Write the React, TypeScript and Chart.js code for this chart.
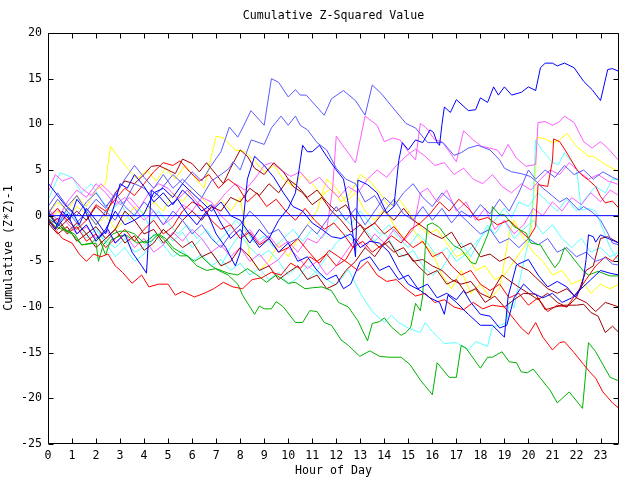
import React, { useEffect, useRef } from "react";
import { Chart, registerables } from "chart.js";

Chart.register(...registerables);

// ---------- axis / labels ----------
const TITLE = "Cumulative Z-Squared Value";
const X_TITLE = "Hour of Day";
const Y_TITLE = "Cumulative (Z*Z)-1";
const hourTicks = [0, 1, 2, 3, 4, 5, 6, 7, 8, 9, 10, 11, 12, 13, 14, 15, 16, 17, 18, 19, 20, 21, 22, 23];
const X_MIN = 0;
const X_MAX = 23.77;
const Y_MIN = -25;
const Y_MAX = 20;
const Y_STEP = 5;

// ---------- series: [hour, cumulative value] ----------
const zeroLine = [[0, 0], [23.77, 0]];

const blueTop = [[0,3.6],[0.4,2.2],[0.7,1.2],[1,0.5],[1.3,-1],[1.6,0.8],[2,-0.5],[2.4,-2],[2.8,1.5],[3,3.5],[3.3,3],[3.6,4.5],[4,3.2],[4.4,1.5],[4.8,2.5],[5.2,1.2],[5.6,2.8],[6,1.8],[6.4,0.5],[6.8,1.2],[7.2,-0.8],[7.6,-2.5],[8,-1.5],[8.4,-3],[8.8,-1.5],[9.2,-2.5],[9.6,-0.5],[10,0.8],[10.3,2.5],[10.45,5],[10.6,7.7],[10.8,7],[11,7],[11.3,7.7],[11.6,6.5],[12,5],[12.3,4],[12.6,0],[12.8,-4.5],[12.9,3.9],[13.3,3.4],[13.7,2.5],[14.1,0.3],[14.4,1],[14.6,6],[14.75,8],[15,7.2],[15.3,8.3],[15.6,8],[15.9,9.4],[16.05,9.1],[16.2,8],[16.3,7.7],[16.4,10],[16.5,11.9],[16.75,11.3],[17,12.7],[17.5,11.5],[17.8,11.6],[18,12.9],[18.3,12.4],[18.55,14.1],[18.75,13.2],[19,14.1],[19.3,13.2],[19.7,13.5],[20,14.1],[20.3,13.7],[20.5,16.2],[20.7,16.7],[21,16.7],[21.2,16.4],[21.5,16.7],[21.9,16.2],[22.3,14.7],[22.65,13.8],[23,12.6],[23.3,16],[23.5,16.1],[23.77,15.8]];

const blueDip = [[0,-0.5],[0.3,-1.5],[0.6,0.5],[0.9,-0.5],[1.2,1.8],[1.5,0.8],[1.8,-1],[2.1,-2.5],[2.5,-1.5],[2.8,-3],[3.2,-2],[3.5,-4],[3.9,-5.5],[4.1,-6.3],[4.3,2.8],[4.6,2.2],[5,1],[5.4,1.8],[5.8,0.2],[6.2,-1],[6.6,0.5],[7,-2],[7.4,-3.5],[7.8,-5.5],[8,-4],[8.3,4],[8.6,6.5],[9,5.5],[9.4,4.2],[9.8,2.5],[10.2,1],[10.6,0.5],[11,-0.8],[11.4,-1.5],[11.8,-2.3],[12.2,-2.5],[12.6,-2],[13,-3.5],[13.4,-2.8],[13.8,-3],[14.2,-4],[14.6,-6],[15,-7.5],[15.5,-8.2],[15.9,-9],[16.3,-9.5],[16.5,-10.8],[16.65,-8.7],[17,-9.5],[17.5,-10.8],[18,-12],[18.5,-12],[19,-13.3],[19.15,-8.9],[19.5,-5.4],[20,-4.8],[20.4,-6.5],[20.8,-7.8],[21.2,-7.2],[21.6,-7.8],[21.95,-8.9],[22.2,-7.9],[22.3,-6.7],[22.4,-4.8],[22.5,-2.1],[22.7,-2.3],[22.8,-2.9],[23,-2.1],[23.4,-2.6],[23.77,-3]];

const blueMid = [[0,0.5],[0.4,-1.2],[0.8,0.2],[1.2,-2],[1.6,-1],[2,-2.8],[2.4,-1.5],[2.8,0.5],[3.2,-1],[3.6,-0.5],[4,0.2],[4.4,2.5],[4.8,3],[5.2,2],[5.6,3.5],[6,2.5],[6.4,1.5],[6.8,0.5],[7.2,1.5],[7.6,0],[8,-0.5],[8.4,-2],[8.8,-3.5],[9.2,-2.5],[9.6,-4],[10,-3],[10.4,-5],[10.8,-4.5],[11.2,-6],[11.6,-7],[12,-6.5],[12.3,-8],[12.6,-7.5],[13,-5],[13.4,-4.5],[13.8,-6],[14.2,-5.5],[14.6,-7],[15,-6.5],[15.4,-8],[15.8,-7.5],[16.2,-9],[16.6,-8.5],[17,-9.2],[17.3,-8.2],[17.6,-9.5],[18,-10.8],[18.4,-11],[18.8,-12.3],[19.1,-12],[19.4,-9],[19.8,-7.5],[20.2,-8.5],[20.6,-9],[21,-8.5],[21.4,-9.5],[21.8,-9],[22.2,-8],[22.6,-7],[23,-6],[23.4,-6.3],[23.77,-6.5]];

const lightBlueHigh = [[0,1],[0.4,2.5],[0.8,1],[1.2,2.2],[1.6,0.5],[2,-1],[2.4,0.5],[2.8,-0.5],[3.2,1.5],[3.6,3.5],[4,3],[4.4,2],[4.8,3.2],[5.2,4.5],[5.6,3.5],[6,4.8],[6.4,3.8],[6.8,5.5],[7.2,7],[7.55,9.7],[7.9,8.6],[8.1,9.6],[8.45,11.5],[9,9.9],[9.3,15],[9.6,14.6],[10,13],[10.3,13.8],[10.5,13.2],[10.75,13.2],[11.5,11],[11.8,12.8],[12.3,13.7],[12.8,12.6],[13.2,11],[13.5,14.3],[13.9,13.3],[14.3,12],[14.9,10.1],[15.3,9.6],[15.8,8],[16.45,8],[16.9,6.6],[17.2,6.9],[17.5,7.4],[17.9,7.7],[18.1,7.5],[18.4,7.2],[18.8,6.1],[19,5.2],[19.3,4.8],[19.7,4.6],[20.07,4.3],[20.35,3.7],[20.6,3],[20.8,2.6],[21.3,1.5],[21.6,1.95],[22.1,0.6],[22.3,1],[22.7,0.3],[23,-0.5],[23.3,-1.9],[23.5,-3],[23.77,-3.2]];

const lightBlueUpper = [[0,-0.3],[0.4,-1],[0.8,0.8],[1.2,0],[1.6,1.5],[2,2.5],[2.4,1],[2.8,2.2],[3.2,4],[3.6,5.5],[4,4.2],[4.4,3],[4.8,4.5],[5.2,3],[5.6,4],[6,3],[6.4,2],[6.8,3.8],[7.2,4.5],[7.55,5.2],[7.7,5.9],[8,5],[8.46,8.3],[9,7.8],[9.3,9.6],[9.7,10.9],[10,9.9],[10.3,10.9],[10.5,9.9],[10.8,9.4],[11.2,8],[11.6,7.2],[12,5.2],[12.4,4],[12.8,3.5],[13.2,1.5],[13.6,2.2],[14,0.5],[14.4,1.8],[14.8,0.2],[15.2,-0.5],[15.6,1],[16,-0.5],[16.4,0.8],[16.8,-0.8],[17.2,0.5],[17.6,-0.2],[18,1.2],[18.4,0.2],[18.8,1.8],[19.2,0.5],[19.6,2.5],[20,5],[20.3,4],[20.7,5],[21.1,4.2],[21.5,5.5],[21.9,4.5],[22.3,5],[22.7,4],[23.1,4.8],[23.5,4.2],[23.77,3.9]];

const lightBlueMid = [[0,0.2],[0.4,1.8],[0.8,0.5],[1.2,-0.8],[1.6,0.5],[2,1.8],[2.4,0.8],[2.8,2.5],[3.2,1],[3.6,0],[4,1.5],[4.4,0.5],[4.8,-1],[5.2,0.5],[5.6,-0.5],[6,-2],[6.4,-1],[6.8,-2.5],[7.2,-3.5],[7.6,-2],[8,-1],[8.4,0.5],[8.8,-0.5],[9.2,-2],[9.6,-1.5],[10,-3],[10.4,-2.5],[10.8,-1],[11.2,-2],[11.6,-0.5],[12,1],[12.4,-0.5],[12.8,0.8],[13.2,-1],[13.6,0.5],[14,2],[14.4,1],[14.8,2.5],[15.2,3.5],[15.6,2],[16,1],[16.4,2.5],[16.8,1.5],[17.2,0],[17.6,-1],[18,-2],[18.4,-1.5],[18.8,-3],[19.2,-2.5],[19.6,-3.5],[20,-2.5],[20.4,-3.2],[20.8,-2.5],[21.2,-4],[21.6,-3.5],[22,-4.5],[22.4,-4],[22.8,-5],[23.2,-4.6],[23.5,-5.3],[23.77,-5.4]];

const darkRedFall = [[0,-0.5],[0.4,-1.5],[0.8,-0.5],[1.2,0.5],[1.6,-0.5],[2,1],[2.4,0],[2.8,2.5],[3.2,3.8],[3.6,3.5],[4,4.5],[4.3,5.4],[4.6,5.5],[5,5],[5.3,4.6],[5.6,6.2],[6,5.7],[6.3,4.8],[6.6,5.8],[7,4.5],[7.3,3.5],[7.6,5.2],[8,7.2],[8.3,6.5],[8.6,5.2],[9,4.5],[9.4,5.8],[9.8,4.8],[10.2,3.2],[10.6,2.5],[11,1.2],[11.4,2],[11.8,0.5],[12.2,-0.5],[12.6,-1.8],[13,-1],[13.4,-2.5],[13.8,-3.5],[14.2,-2.8],[14.6,-4.5],[15,-4.2],[15.4,-5.5],[15.8,-6.5],[16.2,-6],[16.6,-7.5],[17,-7],[17.4,-8.5],[17.8,-8],[18.2,-9.5],[18.6,-8.8],[19,-10],[19.4,-9.2],[19.8,-8.5],[20.3,-8.6],[20.7,-10.3],[21.1,-10],[21.5,-9.8],[22,-9.8],[22.3,-9.7],[22.6,-10.6],[22.9,-11],[23.2,-12.8],[23.5,-12.1],[23.77,-12.8]];

const darkRedMid = [[0,-1],[0.4,-0.3],[0.8,-1.8],[1.2,-0.8],[1.6,-2],[2,-1.2],[2.4,-2.5],[2.8,-1.5],[3.2,0.5],[3.6,-0.5],[4,-2],[4.4,-1.5],[4.8,-3],[5.2,-2],[5.6,-0.5],[6,0.5],[6.4,-0.5],[6.8,1],[7.2,0.5],[7.6,2],[8,1.5],[8.4,3],[8.8,2.2],[9.2,3.5],[9.6,2.5],[10,4],[10.4,3.2],[10.8,2],[11.2,2.8],[11.6,1.5],[12,0.5],[12.4,1.2],[12.8,-0.5],[13.2,-1.5],[13.6,-0.8],[14,0.5],[14.4,-0.5],[14.8,0.8],[15.2,-0.5],[15.6,-1.2],[16,-2],[16.4,-2.5],[16.8,-1.8],[17.2,-3.5],[17.6,-3],[18,-4.5],[18.4,-4.2],[18.8,-5],[19.2,-4.5],[19.6,-5.5],[20,-6],[20.4,-7],[20.8,-8],[21.2,-8.5],[21.6,-8],[22,-9],[22.4,-6],[22.7,-5.5],[23,-2.5],[23.3,-2.3],[23.77,-3]];

const darkRedLow = [[0,-0.8],[0.4,-2],[0.8,-1.2],[1.2,-2.8],[1.6,-2],[2,-3.5],[2.4,-2.5],[2.8,-1.5],[3.2,-3],[3.6,-2.2],[4,-3.8],[4.4,-3],[4.8,-1.5],[5.2,-2.5],[5.6,-3.5],[6,-2.8],[6.4,-4.5],[6.8,-4],[7.2,-5.5],[7.6,-5],[8,-3.5],[8.4,-4.5],[8.8,-6],[9.2,-5.5],[9.6,-7],[10,-6.2],[10.4,-5.5],[10.8,-7],[11.2,-6.5],[11.6,-8],[12,-7.5],[12.4,-6],[12.8,-5],[13.2,-3.5],[13.6,-4.5],[14,-3],[14.4,-4],[14.8,-3.5],[15.2,-5],[15.6,-4.8],[16,-5.5],[16.4,-6],[16.8,-7],[17.2,-7.5],[17.6,-7.2],[18,-8.5],[18.4,-9],[18.6,-7.8],[18.9,-6.5],[19.3,-7.3],[19.7,-8],[20,-8.5],[20.4,-9.2],[20.8,-8.5],[21.2,-9.5],[21.6,-10],[22,-9],[22.4,-9.5],[22.8,-10.5],[23.2,-9.5],[23.77,-10]];

const redBottom = [[0,-0.3],[0.3,-1.5],[0.6,-2.5],[1,-3],[1.3,-4.2],[1.6,-5],[1.9,-4.2],[2.2,-4.5],[2.5,-4.2],[2.8,-5.5],[3.1,-6.2],[3.5,-7.4],[3.9,-6.5],[4.2,-7.8],[4.6,-7.5],[5,-7.5],[5.3,-8.7],[5.6,-8.3],[6.1,-8.9],[6.5,-8.5],[6.9,-8],[7.3,-7.3],[7.7,-7.8],[8.1,-8],[8.5,-7],[8.9,-6.8],[9.3,-6.2],[9.7,-6.5],[10.1,-5.2],[10.5,-5.8],[10.9,-4.5],[11.3,-5.2],[11.7,-3.8],[12.1,-4.5],[12.5,-5.2],[12.9,-6],[13.3,-5],[13.7,-6.5],[14.1,-7.2],[14.5,-7],[14.9,-8],[15.3,-8.8],[15.7,-8.5],[16.1,-9.5],[16.5,-9.2],[16.9,-10],[17.3,-10.3],[17.7,-9.5],[18.1,-10.2],[18.5,-9.8],[19,-10],[19.3,-11],[19.7,-12.3],[20,-13],[20.3,-11.7],[20.6,-13.3],[21,-14.7],[21.3,-13.9],[21.5,-13.8],[21.9,-15],[22.3,-16.3],[22.55,-17.1],[22.8,-17.8],[23.1,-19.3],[23.5,-20.5],[23.77,-21.1]];

const redJump = [[0,-0.2],[0.4,0.8],[0.8,-0.5],[1.2,-1.5],[1.6,-0.5],[2,1.2],[2.4,0.5],[2.8,1.8],[3.2,3],[3.6,2.2],[4,3.5],[4.4,4.8],[4.8,5.8],[5.2,5.5],[5.5,6],[5.9,4.8],[6.3,3.8],[6.7,4.5],[7.1,3],[7.5,4],[7.9,3.2],[8.3,1.5],[8.7,2.5],[9.1,1],[9.5,1.8],[9.9,0.5],[10.3,-0.5],[10.7,0.8],[11.1,-0.5],[11.5,-1.5],[11.9,-0.8],[12.3,-2],[12.7,-3.5],[13.1,-2.8],[13.5,-4],[13.9,-3.2],[14.3,-2.2],[14.7,-3],[15.1,-1.5],[15.5,-0.8],[15.9,0.2],[16.3,1.5],[16.7,0.5],[17.1,1.8],[17.5,0.8],[17.9,-0.5],[18.3,-0.2],[18.7,-1],[19.2,-0.5],[19.6,-1.5],[20,-2.5],[20.3,-1.2],[20.4,3.4],[20.8,3.2],[21,6],[21.05,8.4],[21.3,8.1],[21.5,7.3],[21.8,6],[22,5.1],[22.2,4.5],[22.5,3.9],[22.8,3.2],[23,2.1],[23.2,1.4],[23.5,1.6],[23.77,0.8]];

const redMid = [[0,0.3],[0.4,-0.8],[0.8,-2],[1.2,-1.2],[1.6,-2.8],[2,-2],[2.4,-3.5],[2.8,-2.5],[3.2,-1.5],[3.6,-2.8],[4,-1.5],[4.4,-0.5],[4.8,-2],[5.2,-1.2],[5.6,0.5],[6,1.5],[6.4,1],[6.8,-0.5],[7.2,-1.5],[7.6,-1],[8,-2.5],[8.4,-1.8],[8.8,-3.2],[9.2,-2.5],[9.6,-4],[10,-3.5],[10.4,-2.5],[10.8,-3.8],[11.2,-5],[11.6,-4.2],[12,-5.5],[12.4,-4.8],[12.8,-3],[13.2,-1.5],[13.6,-0.8],[14,-2],[14.4,-1.2],[14.8,-2.5],[15.2,-3.5],[15.6,-2.8],[16,-4.5],[16.4,-4],[16.8,-5.5],[17.2,-6.5],[17.6,-6],[18,-7.5],[18.4,-8.2],[18.8,-7.5],[19.2,-9],[19.6,-8.5],[20,-9.8],[20.4,-9],[20.8,-10.5],[21.2,-9.8],[21.6,-10],[22,-8.5],[22.4,-7],[22.8,-5.5],[23.2,-4.5],[23.5,-5],[23.77,-4.2]];

const greenLow = [[0,-0.3],[0.3,-1.2],[0.6,-1.5],[1,-2],[1.4,-3.2],[1.7,-3.1],[2,-3],[2.1,-5],[2.3,-3.2],[2.7,-2],[3,-1.7],[3.3,-1.7],[3.6,-2],[4,-3],[4.3,-2.8],[4.6,-2],[4.9,-2.5],[5.2,-3.5],[5.5,-4],[5.8,-4.4],[6.1,-5],[6.4,-4.5],[6.8,-5.5],[7.1,-6],[7.5,-6.5],[7.9,-7.5],[8.1,-8.7],[8.6,-10.8],[8.8,-9.9],[9,-10.2],[9.3,-10.2],[9.5,-9.4],[9.8,-10],[10.3,-11.7],[10.6,-11.7],[10.9,-10.4],[11.2,-10.5],[11.5,-11.7],[11.8,-12],[12.2,-13.6],[12.5,-14.2],[12.98,-15.4],[13.4,-14.8],[13.8,-15.4],[14.2,-15.5],[14.7,-15.5],[15.07,-16.3],[15.5,-18],[16,-19.6],[16.2,-16.1],[16.7,-17.7],[17,-17.7],[17.2,-14.2],[17.4,-14.5],[18,-16.7],[18.3,-15.5],[18.5,-15.5],[18.9,-14.9],[19.2,-16],[19.5,-16.1],[19.7,-17.1],[19.95,-17.2],[20.2,-16.8],[20.5,-17.8],[20.9,-19.1],[21.2,-20.5],[21.7,-19.3],[22.25,-21.1],[22.5,-13.9],[22.8,-14.9],[23.4,-17.7],[23.77,-18.1]];

const greenRise = [[0,0.2],[0.3,-0.8],[0.7,-1.5],[1.1,-2],[1.4,-3.2],[1.8,-3],[2.1,-2.3],[2.4,-4.3],[2.6,-2.7],[3,-2.2],[3.3,-2.2],[3.7,-3],[4.1,-2.8],[4.5,-2],[4.8,-2.5],[5.2,-3.8],[5.5,-4.4],[5.8,-4.4],[6.2,-5.5],[6.6,-6],[7,-5.8],[7.5,-6.3],[7.9,-6.5],[8.3,-5.8],[8.7,-6.5],[9.1,-7.3],[9.5,-6.5],[10,-7.4],[10.3,-7.3],[10.7,-8],[11,-7.9],[11.4,-7.8],[11.8,-8.2],[12.1,-9.5],[12.5,-10],[12.9,-11.5],[13.3,-13.7],[13.5,-11.8],[13.8,-11.6],[14,-11.2],[14.3,-12.2],[14.7,-13.1],[14.9,-12.8],[15.1,-12.2],[15.3,-9.6],[15.5,-10.4],[15.6,-8.7],[15.7,-3.7],[15.8,-1],[16,-0.8],[16.3,-1.3],[16.6,-2.4],[16.9,-3.3],[17.2,-3.7],[17.6,-5.1],[17.8,-5.3],[18,-4],[18.3,-2.1],[18.45,-0.8],[18.5,1],[18.8,0.1],[19,0.1],[19.4,-1.2],[19.9,-1.9],[20.1,-3],[20.5,-3.2],[20.8,-4.5],[21.1,-5.7],[21.3,-5],[21.5,-3.5],[21.7,-4.1],[21.9,-4.8],[22.3,-6.1],[22.5,-6.5],[22.9,-6.1],[23.4,-6.6],[23.77,-6.6]];

const magentaHigh = [[0,0.8],[0.4,-0.5],[0.8,1.5],[1.2,2.8],[1.6,2],[2,3.5],[2.4,2.5],[2.8,1.2],[3.2,2],[3.6,0.8],[4,-0.5],[4.4,0.5],[4.8,-1],[5.2,-0.2],[5.6,1.2],[6,0.5],[6.4,2],[6.8,1.5],[7.2,0],[7.6,-1],[8,-2.5],[8.4,-1.5],[8.8,-3],[9.2,-2.2],[9.6,-3.5],[10,-2.8],[10.4,-4],[10.8,-2.5],[11.2,-3],[11.6,-1.6],[11.85,3],[12,8.7],[12.35,7.4],[12.8,5.8],[13.2,10.9],[13.7,9.9],[14,8.1],[14.35,8.5],[14.65,8.3],[15,7],[15.3,6.1],[15.5,10.1],[15.75,9.6],[16.1,8.3],[16.4,8.1],[16.65,7.2],[17,5.9],[17.3,9.3],[17.7,8.3],[18.05,7.6],[18.7,7.2],[18.9,6.5],[19.15,7.8],[19.5,6.3],[19.9,5.4],[20.3,5.6],[20.4,10.2],[20.7,10.3],[21,9.9],[21.25,10.2],[21.5,10.9],[21.9,10.2],[22.3,8.1],[22.65,7.4],[23,8.1],[23.3,7.4],[23.77,6]];

const magentaUpper = [[0,2.5],[0.3,4.5],[0.6,3.8],[1,4.2],[1.4,3],[1.8,2.2],[2.2,3.5],[2.6,2.5],[3,1.2],[3.4,2],[3.8,0.8],[4.2,2.5],[4.6,3.5],[5,3],[5.4,1.8],[5.8,2.8],[6.2,1.5],[6.6,0.5],[7,1.2],[7.4,2.5],[7.8,3.5],[8.2,2.8],[8.6,4],[9,5.5],[9.3,5.8],[9.7,5],[10.1,4.3],[10.5,4.8],[10.9,3.5],[11.3,4.2],[11.7,3],[12.1,2],[12.5,3.2],[12.9,2.5],[13.3,4],[13.7,5],[14.1,4.2],[14.5,5.5],[14.9,6.5],[15.3,7.3],[15.7,6.5],[16.1,5.5],[16.5,5.8],[16.9,4.5],[17.3,5.2],[17.7,4],[18.1,3.5],[18.5,4.5],[18.9,3.2],[19.3,2.5],[19.7,3.5],[20.1,2.8],[20.5,4],[20.9,5],[21.3,4.5],[21.7,5.8],[22.1,4.8],[22.5,4],[22.9,4.5],[23.3,3.8],[23.77,3.4]];

const magentaLow = [[0,-0.5],[0.4,0.8],[0.8,-0.8],[1.2,-2],[1.6,-1.2],[2,-2.5],[2.4,-1.5],[2.8,-3],[3.2,-2],[3.6,-3.5],[4,-2.5],[4.4,-4],[4.8,-3.2],[5.2,-1.8],[5.6,-2.8],[6,-1.5],[6.4,-2.5],[6.8,-4],[7.2,-3.2],[7.6,-4.5],[8,-3.5],[8.4,-5],[8.8,-4.2],[9.2,-5.5],[9.6,-4.8],[10,-3.5],[10.4,-4.5],[10.8,-5.8],[11.2,-5],[11.6,-6.5],[12,-5.5],[12.4,-4],[12.8,-2.5],[13.2,-3.5],[13.6,-2],[14,-3],[14.4,-1.5],[14.8,-2.8],[15.2,-1.5],[15.5,2.5],[15.8,3],[16.2,1.5],[16.6,2.8],[17,0.5],[17.4,1.5],[17.8,-0.5],[18.2,0.8],[18.6,-1.5],[19,-0.5],[19.4,-2],[19.8,-1],[20.2,0.8],[20.6,0],[21,1.5],[21.4,0.5],[21.8,2],[22.2,1.2],[22.6,2.5],[23,1.5],[23.4,2.8],[23.77,2.2]];

const cyanLow = [[0,-0.2],[0.4,-1],[0.8,0.5],[1.2,-0.5],[1.6,-2],[2,-1.2],[2.4,-2.8],[2.8,-3.5],[3.2,-2.5],[3.6,-4],[4,-3.5],[4.4,-2],[4.8,-3.2],[5.2,-4.5],[5.6,-3.8],[6,-5],[6.4,-4.2],[6.8,-5.5],[7.2,-4.8],[7.6,-6],[8,-5.2],[8.4,-6.5],[8.8,-5.8],[9.2,-7],[9.6,-6.2],[10,-7.5],[10.4,-6.8],[10.8,-5.5],[11.2,-6.3],[11.6,-7],[12,-7.6],[12.5,-5.9],[13,-8.5],[13.5,-10.5],[14,-11.7],[14.3,-10.9],[14.6,-11.7],[15,-12.3],[15.5,-12.8],[15.7,-11.7],[16,-12.7],[16.5,-14],[17,-13.9],[17.5,-14.7],[17.8,-13.8],[18.3,-14.3],[18.5,-12.2],[18.8,-12],[19.1,-11.7],[19.2,-9.4],[19.4,-10.1],[19.5,-8.7],[19.7,-6.3],[20,-2.9],[20.2,2],[20.3,8.3],[20.55,7.2],[20.8,6.5],[21,5.8],[21.25,5.6],[21.5,6.9],[22,5.2],[22.2,0.6],[22.5,0.8],[22.8,0.5],[23.1,-1.5],[23.4,-3.5],[23.77,-5]];

const cyanUpper = [[0,1.7],[0.5,4.7],[1,4.2],[1.4,2.5],[1.8,3.5],[2.2,1.8],[2.6,0.5],[3,1.5],[3.4,-0.5],[3.8,0.8],[4.2,-1],[4.6,0.5],[5,-0.8],[5.4,-2],[5.8,-1],[6.2,-2.5],[6.6,-1.5],[7,-3],[7.4,-2],[7.8,-0.5],[8.2,-1.5],[8.6,-3],[9,-2.2],[9.4,-3.5],[9.8,-2.5],[10.2,-1.5],[10.6,-2.8],[11,-1.5],[11.4,-2.5],[11.8,-1],[12.2,0.2],[12.6,-1],[13,0.5],[13.4,-0.8],[13.8,-2],[14.2,-1],[14.6,-2.5],[15,-3.5],[15.4,-2],[15.8,-3],[16.2,-4.5],[16.6,-3.5],[17,-5],[17.4,-4.2],[17.8,-3],[18.2,-1.8],[18.6,-0.5],[19,0.8],[19.3,-0.2],[19.6,1.5],[20,1],[20.4,2.5],[20.8,1.5],[21.2,0.5],[21.6,1.8],[22,0.5],[22.4,2],[22.8,3.2],[23.2,2.5],[23.5,4],[23.77,3.9]];

const cyanMid = [[0,0.5],[0.4,-0.5],[0.8,-2],[1.2,-1],[1.6,-2.5],[2,-1.5],[2.4,-3],[2.8,-4.5],[3.2,-3.5],[3.6,-5],[4,-4.2],[4.4,-2.5],[4.8,-1.5],[5.2,-2.8],[5.6,-1.8],[6,-3.5],[6.4,-2.5],[6.8,-4],[7.2,-5.5],[7.6,-3.5],[8,-2],[8.4,-3.5],[8.8,-4.5],[9.2,-3.8],[9.6,-5],[10,-6.5],[10.4,-5.5],[10.8,-7],[11.2,-6],[11.6,-4.5],[12,-3],[12.4,-2],[12.8,-3],[13.2,-1.5],[13.6,-2.8],[14,-1.8],[14.4,-3.5],[14.8,-4.5],[15.2,-3.8],[15.6,-5.5],[16,-6.5],[16.4,-5.8],[16.8,-4],[17.2,-3],[17.6,-4.5],[18,-2.5],[18.3,-1],[18.6,-2],[19,-0.5],[19.4,-2.5],[19.8,-1.5],[20.2,-0.5],[20.6,-2],[21,-1],[21.4,-2.5],[21.8,-3.5],[22.2,-2.5],[22.6,-4],[23,-3.5],[23.4,-4.5],[23.77,-4]];

const yellowHigh = [[0,0.2],[0.4,1.5],[0.8,0.5],[1.2,2.2],[1.6,1],[2,2.8],[2.4,3.5],[2.6,7.6],[2.9,6.5],[3.3,5.2],[3.7,4],[4.1,5],[4.5,3.8],[4.9,5.2],[5.3,4],[5.7,5.5],[6.1,4.2],[6.5,3],[6.8,6.5],[7,8.7],[7.3,8.5],[7.8,7.2],[8.2,7],[8.6,6],[9,4.8],[9.4,5.5],[9.8,4],[10.2,3.2],[10.6,4.5],[11,3.5],[11.4,2.2],[11.8,3],[12.2,1.5],[12.6,2.5],[13,4.5],[13.4,3.8],[13.8,2.5],[14.2,1],[14.6,1.8],[15,0.5],[15.4,-1],[15.8,-2],[16.2,-1.5],[16.6,-3],[17,-4.5],[17.4,-4],[17.8,-6],[18.2,-5.5],[18.6,-7],[19,-6.5],[19.4,-5],[19.8,-3.5],[20.1,-2],[20.3,5],[20.35,8.6],[20.7,8.4],[21,8],[21.25,8.2],[21.6,9],[22,7.6],[22.5,6.5],[22.7,6.5],[23.2,5.6],[23.77,4.8]];

const yellowLow = [[0,-0.8],[0.4,0.5],[0.8,-0.5],[1.2,1],[1.6,0.2],[2,-1],[2.4,0],[2.8,-1.5],[3.2,-0.5],[3.6,1],[4,0.2],[4.4,1.5],[4.8,0.5],[5.2,2.5],[5.6,1.5],[6,3],[6.4,2],[6.8,0.8],[7.2,1.8],[7.6,0.5],[8,2],[8.4,-4.5],[8.8,-6],[9.2,-5],[9.6,-3],[10,-4.5],[10.4,-2.5],[10.8,-1],[11.2,0.5],[11.6,4],[12,3],[12.4,1.5],[12.8,2.5],[13.2,0.5],[13.6,-0.5],[14,0.8],[14.4,-1],[14.8,-2.5],[15.2,-1.5],[15.6,-3],[16,-4],[16.4,-6.5],[16.8,-8],[17.2,-6],[17.6,-8.5],[18,-7.5],[18.4,-9],[18.8,-8],[19.2,-2],[19.4,-0.5],[19.8,-2.5],[20.2,-4],[20.6,-5],[21,-6.5],[21.4,-6],[21.8,-7.5],[22.2,-7],[22.6,-8.5],[23,-7.5],[23.4,-8],[23.77,-7.5]];

// ---------- colours ----------
const BLUE = "#0000ff";
const LIGHT_BLUE = "#5a5aff";
const DARK_RED = "#a00000";
const RED = "#ff0000";
const GREEN = "#00b000";
const MAGENTA = "#ff5cff";
const CYAN = "#5cffff";
const YELLOW = "#ffff00";

const seriesList = [
  { data: zeroLine, color: BLUE },
  { data: blueTop, color: BLUE },
  { data: blueDip, color: BLUE },
  { data: blueMid, color: BLUE },
  { data: redBottom, color: RED },
  { data: greenLow, color: GREEN },
  { data: greenRise, color: GREEN },
  { data: lightBlueHigh, color: LIGHT_BLUE },
  { data: lightBlueUpper, color: LIGHT_BLUE },
  { data: lightBlueMid, color: LIGHT_BLUE },
  { data: darkRedFall, color: DARK_RED },
  { data: darkRedMid, color: DARK_RED },
  { data: darkRedLow, color: DARK_RED },
  { data: redJump, color: RED },
  { data: redMid, color: RED },
  { data: magentaHigh, color: MAGENTA },
  { data: magentaUpper, color: MAGENTA },
  { data: magentaLow, color: MAGENTA },
  { data: cyanLow, color: CYAN },
  { data: cyanUpper, color: CYAN },
  { data: cyanMid, color: CYAN },
  { data: yellowHigh, color: YELLOW },
  { data: yellowLow, color: YELLOW },
];

const FONT_FAMILY = '"DejaVu Sans Mono", "Liberation Mono", monospace';
const FONT_SIZE = 11.6;

const framePlugin = {
  id: "gnuFrame",
  afterDraw(chart: any) {
    const { ctx, chartArea: a, scales } = chart;
    const xs = scales.x;
    const ys = scales.y;
    const L = Math.round(a.left) + 0.5;
    const R = Math.round(a.right) - 0.5;
    const T = Math.round(a.top) + 0.5;
    const B = Math.round(a.bottom) - 0.5;
    const tl = 5;
    ctx.save();
    ctx.strokeStyle = "#000";
    ctx.lineWidth = 1;
    ctx.beginPath();
    ctx.rect(L, T, R - L, B - T);
    for (const t of xs.ticks) {
      const px = Math.round(xs.getPixelForValue(t.value)) + 0.5;
      ctx.moveTo(px, B);
      ctx.lineTo(px, B - tl);
      ctx.moveTo(px, T);
      ctx.lineTo(px, T + tl);
    }
    for (const t of ys.ticks) {
      const py = Math.round(ys.getPixelForValue(t.value)) + 0.5;
      ctx.moveTo(L, py);
      ctx.lineTo(L + tl, py);
      ctx.moveTo(R, py);
      ctx.lineTo(R - tl, py);
    }
    ctx.stroke();

    ctx.fillStyle = "#000";
    ctx.font = `${FONT_SIZE}px ${FONT_FAMILY}`;
    ctx.textAlign = "center";
    ctx.textBaseline = "middle";
    const cx = (a.left + a.right) / 2;
    ctx.fillText(TITLE, cx, 16);
    ctx.fillText(X_TITLE, cx, 471);
    ctx.translate(9, 248);
    ctx.rotate(-Math.PI / 2);
    ctx.fillText(Y_TITLE, 0, 0);
    ctx.restore();
  },
};

export default function App() {
  const canvasRef = useRef<HTMLCanvasElement | null>(null);

  useEffect(() => {
    const canvas = canvasRef.current;
    if (!canvas) return;
    const chart = new Chart(canvas, {
      type: "scatter",
      data: {
        datasets: seriesList.map((s) => ({
          data: s.data.map(([x, y]) => ({ x, y })),
          borderColor: s.color,
          backgroundColor: s.color,
          borderWidth: 1,
          pointRadius: 0,
          pointHoverRadius: 0,
          showLine: true,
          tension: 0,
          fill: false,
        })),
      },
      options: {
        animation: false,
        responsive: false,
        maintainAspectRatio: false,
        events: [],
        layout: { padding: { top: 33, right: 21, left: 0, bottom: 0 } },
        plugins: {
          legend: { display: false },
          title: { display: false },
          tooltip: { enabled: false },
        },
        scales: {
          x: {
            type: "linear",
            min: X_MIN,
            max: X_MAX,
            grid: { display: false, drawTicks: false },
            border: { display: false },
            afterBuildTicks: (scale: any) => {
              scale.ticks = hourTicks.map((v) => ({ value: v }));
            },
            afterFit: (scale: any) => {
              scale.height = 36;
            },
            ticks: {
              autoSkip: false,
              maxRotation: 0,
              minRotation: 0,
              padding: 5,
              color: "#000",
              font: { family: FONT_FAMILY, size: FONT_SIZE },
              callback: (v: any) => String(v),
            },
          },
          y: {
            type: "linear",
            min: Y_MIN,
            max: Y_MAX,
            grid: { display: false, drawTicks: false },
            border: { display: false },
            afterFit: (scale: any) => {
              scale.width = 48;
            },
            ticks: {
              stepSize: Y_STEP,
              padding: 6,
              color: "#000",
              font: { family: FONT_FAMILY, size: FONT_SIZE },
            },
          },
        },
      },
      plugins: [framePlugin],
    });
    return () => chart.destroy();
  }, []);

  return (
    <div style={{ position: "fixed", left: 0, top: 0, width: 640, height: 480, background: "#fff" }}>
      <canvas ref={canvasRef} width={640} height={480} style={{ display: "block", width: 640, height: 480 }} />
    </div>
  );
}
